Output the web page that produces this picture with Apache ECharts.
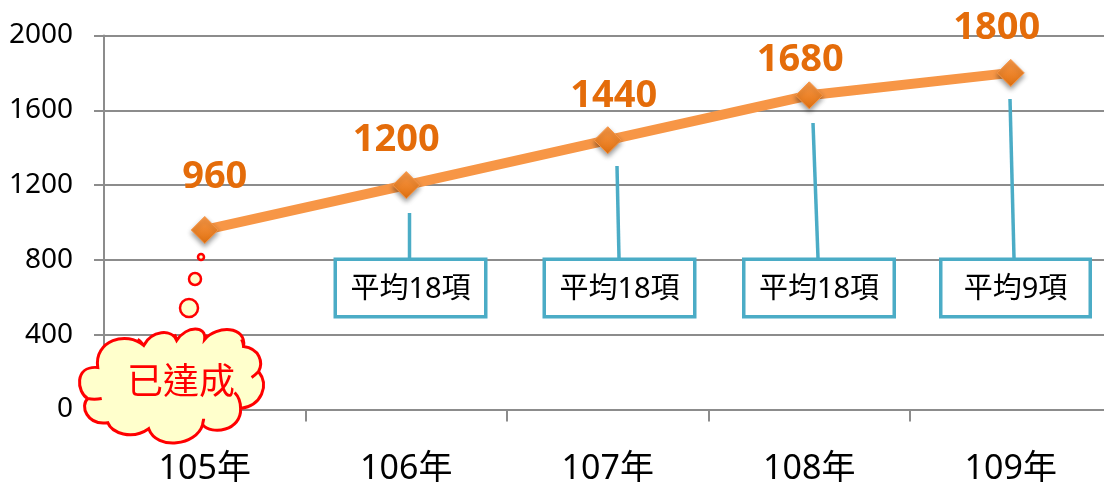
<!DOCTYPE html>
<html><head><meta charset="utf-8">
<script src="https://cdn.jsdelivr.net/npm/echarts@6/dist/echarts.min.js"></script>
<style>html,body{margin:0;padding:0;background:#fff}#c{width:1104px;height:483px}</style>
</head><body><div id="c"></div>
<script>
const categories = ['105年','106年','107年','108年','109年'];
const values = [960,1200,1440,1680,1800];
const yTicks = {min:0,max:2000,interval:400};
const calloutTexts = ['平均18項','平均18項','平均18項','平均9項'];
const cloudText = '已達成';

const labelShift = [[10,-15],[-10,-7],[6,-6],[-9,3],[-14,-7]];
const boxes = [[333.5,257.5,154,61],[542.5,257.5,154,61],[742,257.5,154,61],[939,257.5,153,61]];
const leaders = [[409.5,213,409.5,258],[617,166,619,258],[813,123,818,258],[1010,99,1014,258]];
const FONT = '"Noto Sans","Noto Sans CJK TC",sans-serif';
const TEAL = '#4BACC6', GREY = '#8C8C8C';

const cloudPath = 'M96,367 C92,340 125,330 142,345 C150,330 170,328 175,340 C185,325 205,325 203,339 C215,325 245,325 242,346 C258,348 262,362 257,371 '
 + 'C268,385 260,405 239,408 C240,430 210,435 201,424 C195,445 155,450 147,428 C130,440 110,432 106,422 C85,425 78,405 86,398 C75,392 72,365 96,367 Z '
 + 'M233,392 C238,397 239,403 239,408 M86,398 C90,399 95,399 100,398 M250,377 C253,375 255,373 257,371 M242,346 C242,343 241,341 240,339 '
 + 'M175,340 C174,338 174,336 173,334 M203,339 C204,337 205,336 206,335 M142,345 C140,342 138,340 136,339 M201,424 C201,422 202,420 202,418';

const graphics = [];
graphics.push({type:'circle',z:50,shape:{cx:201,cy:257,r:3},style:{fill:'#FFFFCC',stroke:'#FF0000',lineWidth:2.5}});
graphics.push({type:'circle',z:50,shape:{cx:195,cy:279,r:6},style:{fill:'#FFFFCC',stroke:'#FF0000',lineWidth:2.5}});
graphics.push({type:'circle',z:50,shape:{cx:189,cy:308,r:9},style:{fill:'#FFFFCC',stroke:'#FF0000',lineWidth:2.5}});
graphics.push({type:'text',z:52,style:{text:cloudText,x:181,y:380,align:'center',verticalAlign:'middle',fill:'#FF0000',font:'36px "Noto Sans CJK TC",sans-serif'}});
leaders.forEach(l=>graphics.push({type:'line',z:40,shape:{x1:l[0],y1:l[1],x2:l[2],y2:l[3]},style:{stroke:TEAL,lineWidth:3.5}}));
boxes.forEach((b,i)=>{
  graphics.push({type:'rect',z:41,shape:{x:b[0]+1.75,y:b[1]+1.75,width:b[2]-3.5,height:b[3]-3.5},style:{fill:'#fff',stroke:TEAL,lineWidth:3.5}});
  graphics.push({type:'text',z:42,style:{text:calloutTexts[i],x:b[0]+b[2]/2,y:b[1]+b[3]/2+1.5,align:'center',verticalAlign:'middle',fill:'#000',font:'29px '+FONT}});
});

const chart = echarts.init(document.getElementById('c'),null,{renderer:'canvas'});
chart.setOption({
  animation:false,
  backgroundColor:'#fff',
  grid:{left:104,top:35.5,width:1007.5,height:374,containLabel:false,outerBoundsMode:'none'},
  xAxis:{type:'category',data:categories,boundaryGap:true,
    axisLine:{lineStyle:{color:GREY,width:2}},
    axisTick:{show:true,length:12,alignWithLabel:false,lineStyle:{color:GREY,width:2}},
    axisLabel:{color:'#000',fontSize:34,fontFamily:FONT,margin:43,interval:0}},
  yAxis:{type:'value',min:yTicks.min,max:yTicks.max,interval:yTicks.interval,
    axisLine:{show:true,lineStyle:{color:GREY,width:2}},
    axisTick:{show:true,length:10,lineStyle:{color:GREY,width:2}},
    splitLine:{show:true,lineStyle:{color:GREY,width:2}},
    axisLabel:{color:'#000',fontSize:28,fontFamily:FONT,margin:31,padding:[8,0,0,0],formatter:v=>String(v)}},
  series:[{type:'line',data:values.map((v,i)=>({value:v,label:{offset:labelShift[i]}})),
    lineStyle:{color:'#F79646',width:10},
    symbol:'diamond',symbolSize:27,
    itemStyle:{color:new echarts.graphic.LinearGradient(0,0,0,1,[{offset:0,color:'#FA9A4A'},{offset:1,color:'#E0700F'}]),
      borderColor:'#F79646',borderWidth:1,shadowBlur:5,shadowColor:'rgba(0,0,0,0.4)',shadowOffsetY:3},
    label:{show:true,position:'top',color:'#E46C0A',fontWeight:'bold',fontSize:38,fontFamily:FONT},
    emphasis:{disabled:true},z:10},
    {type:'custom',coordinateSystem:'none',data:[0],z:49,silent:true,
     renderItem:()=>({type:'path',shape:{pathData:cloudPath,layout:'cover',x:79.5,y:329,width:184,height:114},style:{fill:'#FFFFCC',stroke:'#FF0000',lineWidth:3}})}
  ],
  graphic:graphics
});
</script></body></html>
